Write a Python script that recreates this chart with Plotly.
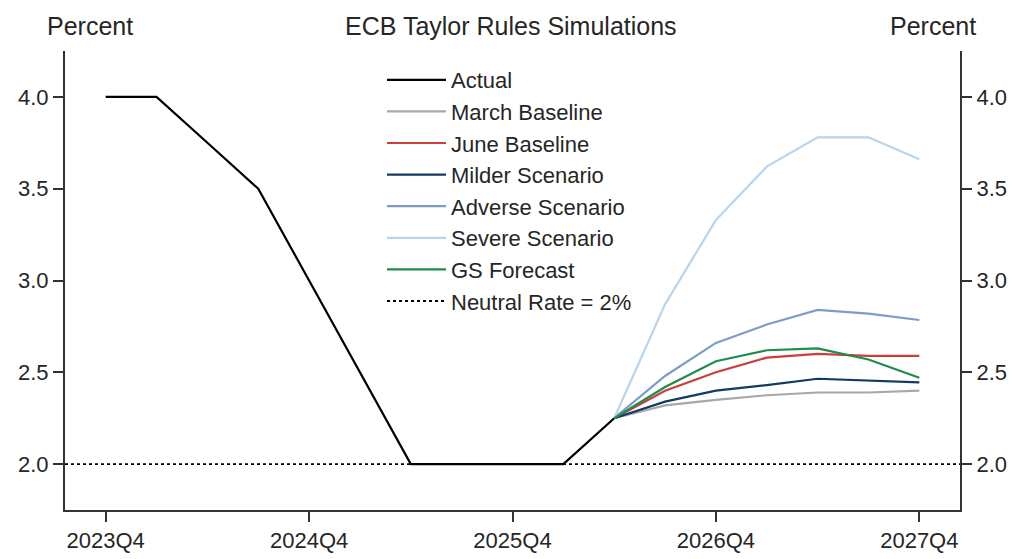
import plotly.graph_objects as go

quarters = ["2023Q4", "2024Q1", "2024Q2", "2024Q3", "2024Q4", "2025Q1", "2025Q2", "2025Q3",
            "2025Q4", "2026Q1", "2026Q2", "2026Q3", "2026Q4", "2027Q1", "2027Q2", "2027Q3", "2027Q4"]
tick_labels = ["2023Q4", "2024Q4", "2025Q4", "2026Q4", "2027Q4"]

actual = [4.0, 4.0, 3.75, 3.5, 3.0, 2.5, 2.0, 2.0, 2.0, 2.0, 2.25]
sim_quarters = quarters[10:]
march_baseline = [2.25, 2.32, 2.35, 2.375, 2.39, 2.39, 2.40]
june_baseline = [2.25, 2.40, 2.50, 2.58, 2.60, 2.59, 2.59]
milder = [2.25, 2.34, 2.40, 2.43, 2.465, 2.455, 2.445]
adverse = [2.25, 2.48, 2.66, 2.76, 2.84, 2.82, 2.785]
severe = [2.25, 2.87, 3.33, 3.62, 3.78, 3.78, 3.66]
gs_forecast = [2.25, 2.42, 2.56, 2.62, 2.63, 2.57, 2.47]
neutral_rate = 2.0

idx = {q: i for i, q in enumerate(quarters)}
FONT = "Liberation Sans, Arial, sans-serif"
TXT = "#262626"

fig = go.Figure()

def add(name, xs, ys, color, dash="solid", width=2.2, group=None):
    fig.add_trace(go.Scatter(
        x=[idx[q] for q in xs], y=ys, mode="lines", name=name,
        line=dict(color=color, width=width, dash=dash),
        legendgroup=group or name))

add("Actual", quarters[:len(actual)], actual, "#000000")
add("March Baseline", sim_quarters, march_baseline, "#a8a8a8")
add("June Baseline", sim_quarters, june_baseline, "#c9403b")
add("Milder Scenario", sim_quarters, milder, "#123a62")
add("Adverse Scenario", sim_quarters, adverse, "#7c9dc7")
add("Severe Scenario", sim_quarters, severe, "#b8d5ec")
add("GS Forecast", sim_quarters, gs_forecast, "#1f8b4c")

x_lo, x_hi = -0.8, 16.8
fig.add_trace(go.Scatter(
    x=[x_lo, x_hi], y=[neutral_rate, neutral_rate], mode="lines",
    name="Neutral Rate = 2%", line=dict(color="#000000", width=1.8, dash="dot"),
    legendgroup="neutral"))
# invisible trace to carry the right axis
fig.add_trace(go.Scatter(x=[x_lo, x_hi], y=[neutral_rate, neutral_rate], yaxis="y2",
                         mode="lines", line=dict(color="rgba(0,0,0,0)"),
                         showlegend=False, hoverinfo="skip"))

yr = [1.75, 4.25]
ytick = dict(tickvals=[2.0, 2.5, 3.0, 3.5, 4.0], ticktext=["2.0", "2.5", "3.0", "3.5", "4.0"])
axis_common = dict(showgrid=False, zeroline=False, showline=True, linecolor="#333333",
                   linewidth=2, ticks="outside", ticklen=10, tickwidth=2, tickcolor="#333333",
                   automargin=False,
                   tickfont=dict(family=FONT, size=22, color=TXT))

pw, ph = 1019 - 65 - 59, 559 - 51 - 49
def px(xp):
    return (xp - 65) / pw
def py(yp):
    return (559 - 49 - yp) / ph

fig.update_layout(
    width=1019, height=559,
    margin=dict(l=65, r=59, t=51, b=49),
    paper_bgcolor="white", plot_bgcolor="white",
    font=dict(family=FONT, color=TXT),
    xaxis=dict(range=[x_lo, x_hi], tickvals=[idx[t] for t in tick_labels], ticktext=tick_labels,
               **axis_common),
    yaxis=dict(range=yr, side="left", **ytick, **axis_common),
    yaxis2=dict(range=yr, side="right", overlaying="y", **ytick, **axis_common),
    legend=dict(x=px(382), y=py(59), xanchor="left", yanchor="top", bgcolor="rgba(0,0,0,0)",
                font=dict(family=FONT, size=22, color=TXT), tracegroupgap=0, itemwidth=59),
    showlegend=True,
)
fig.add_annotation(text="ECB Taylor Rules Simulations", x=px(511), y=py(26), xref="paper", yref="paper",
                   xanchor="center", yanchor="middle",
                   showarrow=False, font=dict(family=FONT, size=25, color=TXT))
fig.add_annotation(text="Percent", x=px(90), y=py(26), xref="paper", yref="paper",
                   xanchor="center", yanchor="middle",
                   showarrow=False, font=dict(family=FONT, size=25, color=TXT))
fig.add_annotation(text="Percent", x=px(933), y=py(26), xref="paper", yref="paper",
                   xanchor="center", yanchor="middle",
                   showarrow=False, font=dict(family=FONT, size=25, color=TXT))

fig.write_html("out.html")
